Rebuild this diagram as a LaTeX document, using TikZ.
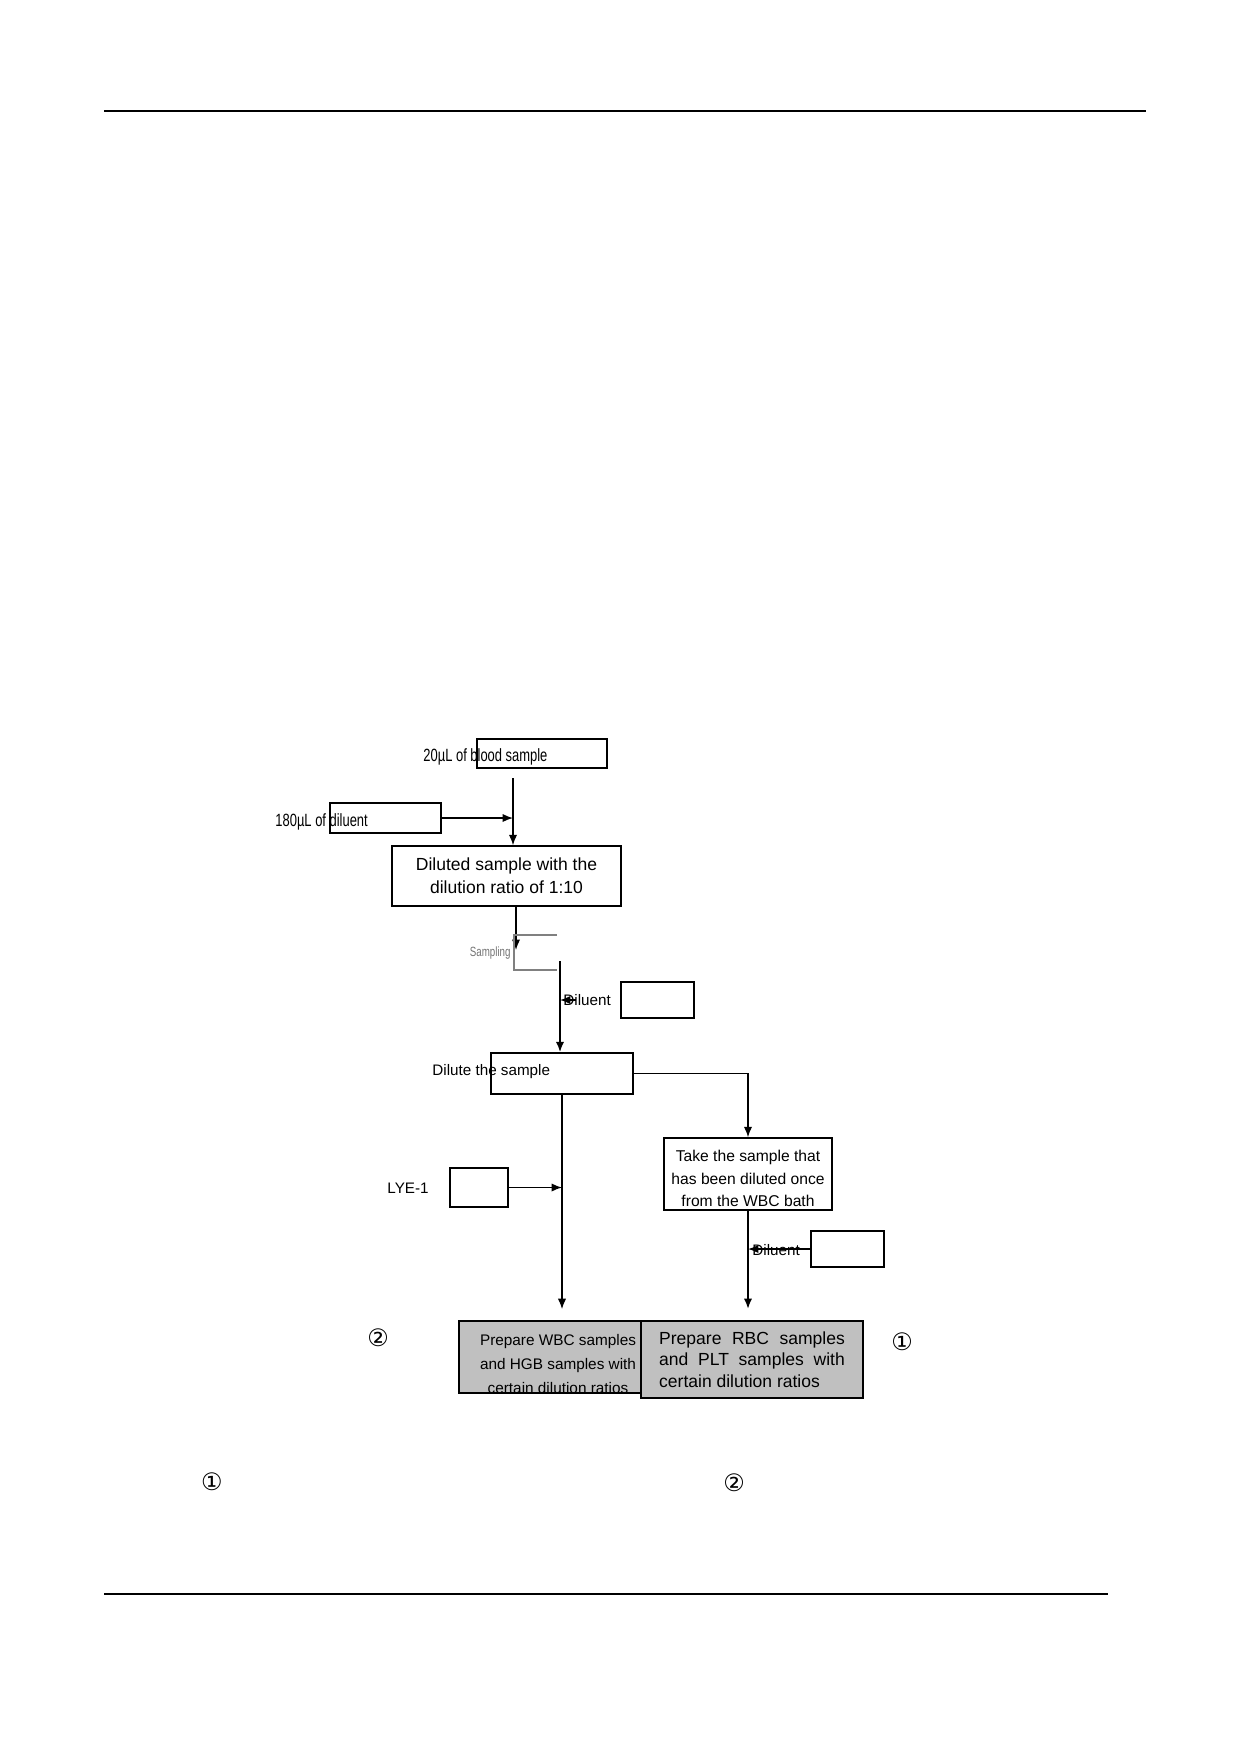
\documentclass[tikz,border=0pt]{standalone}
\usepackage{fontspec}
\setmainfont{Liberation Sans}
\newfontfamily\condfont[FakeStretch=0.73]{Liberation Sans}
\newfontfamily\circfont{DejaVu Sans}
\usepackage{tikz}
\usetikzlibrary{arrows.meta,calc,positioning}
\definecolor{boxgray}{RGB}{192,192,192}
\newcommand{\pxu}{0.4793pt}

\begin{document}
\begin{tikzpicture}[
	x=\pxu, y=-\pxu,
	box/.style 2 args={draw, line width=0.7pt, inner sep=0pt, minimum width=#1*\pxu, minimum height=#2*\pxu},
	shaded/.style={fill=boxgray},
	lbl/.style={font=\fontsize{7.3}{9}\selectfont, inner sep=0pt},
	cond/.style={font=\condfont\fontsize{8.5}{10}\selectfont, inner sep=0pt},
	circ/.style={font=\circfont\fontsize{11.5}{12}\selectfont, inner sep=0pt},
	flow/.style={->, line width=0.7pt},
	>={Latex[length=5pt,width=4pt]}
	]
	\useasboundingbox (0,0) rectangle (1242,1754);

	% Les filets de page
	\draw[line width=1.2pt] (104,111) -- (1146,111);
	\draw[line width=1.2pt] (104,1594) -- (1108,1594);

	% Les boites
	\node[box={130}{29}] (blood) at (542,753.5) {};
	\node[cond, anchor=west] (bloodtxt) at (423,757) {20µL of blood sample};
	\node[box={111}{30}] (dilA) at (385.5,818) {};
	\node[cond, anchor=west] (dilAtxt) at (275,822) {180µL of diluent};
	\node[box={229}{60}, align=center, font=\fontsize{8.4}{11}\selectfont] (diluted) at (506.5,876)
		{Diluted sample with the\\dilution ratio of 1:10};
	\node[cond, anchor=east, text=gray!90!black, font=\condfont\fontsize{6.4}{8}\selectfont] (samptxt) at (511,953) {Sampling};
	\node[lbl, anchor=west] (dilBtxt) at (563,1000) {Diluent};
	\node[box={73}{36}] (dilB) at (657.5,1000) {};
	\node[box={142}{41}] (dilute) at (562,1073.5) {};
	\node[lbl, anchor=west] (dilutetxt) at (432,1072) {Dilute the sample};
	\node[box={168}{72}] (take) at (748,1174) {};
	\node[align=center, inner sep=0pt, font=\fontsize{7.5}{10.8}\selectfont] (taketxt) at (748,1178.5)
		{Take the sample that\\has been diluted once\\from the WBC bath};
	\node[lbl, anchor=west] (lyetxt) at (387,1188) {LYE-1};
	\node[box={58}{39}] (lye) at (479,1187.5) {};
	\node[box={73}{36}] (dilC) at (847.5,1249) {};
	\node[lbl, anchor=west] (dilCtxt) at (752,1250) {Diluent};
	\node[box={182}{72}, shaded] (wbc) at (550,1357) {};
	\begin{scope}
		\clip (wbc.north west) rectangle (wbc.south east);
		\node[align=center, inner sep=0pt, font=\fontsize{7.35}{11.7}\selectfont] (wbctxt) at (558,1364)
			{Prepare WBC samples\\and HGB samples with\\certain dilution ratios};
	\end{scope}
	\node[box={222}{77}, shaded, align=left, font=\fontsize{8.4}{10.3}\selectfont] (rbc) at (752,1359.5)
		{\makebox[89pt][s]{Prepare RBC samples}\\\makebox[89pt][s]{and PLT samples with}\\\makebox[89pt][l]{certain dilution ratios}};

	% Les reperes
	\node[circ] (nB) at (378,1338) {②};
	\node[circ] (nA) at (902,1342) {①};
	\node[circ] (fA) at (212,1482) {①};
	\node[circ] (fB) at (734,1483) {②};

	% Les fleches
	\coordinate (j1) at (513,778);
	\draw[flow] (j1) -- (j1 |- diluted.north);
	\draw[flow] (dilA.east) -- (dilA.east -| j1);
	\coordinate (samp) at (516,950);
	\draw[flow] (diluted.south -| samp) -- (samp);
	\coordinate (brtop) at (557,935);
	\coordinate (brbot) at (557,970);
	\draw[gray, line width=0.7pt] (brtop) -- (brtop -| 514,0) -- (brbot -| 514,0) -- (brbot);
	\coordinate (s2) at (560,961);
	\draw[flow, line width=0.9pt] (s2) -- (s2 |- dilute.north);
	\draw[flow] ([xshift=6pt]dilBtxt.west) -- (dilBtxt.west -| s2);
	\draw[flow] (dilute.east) -| (take.north);
	\coordinate (wtip) at (562,1309);
	\draw[->, line width=0.5pt] (dilute.south) -- (wtip);
	\draw[flow] (lye.east) -- (lye.east -| dilute.south);
	\coordinate (rtip) at (748,1309);
	\draw[flow, line width=0.9pt] (take.south) -- (rtip);
	\draw[flow] (dilC.west) -- (dilC.west -| take.south);
\end{tikzpicture}
\end{document}
